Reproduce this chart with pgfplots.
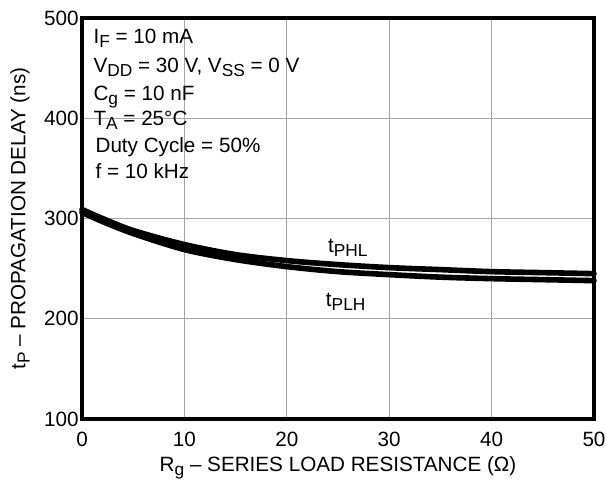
\documentclass[border=0pt]{standalone}
\usepackage{pgfplots}
\pgfplotsset{compat=1.18}
\usepackage{fontspec}
\setmainfont{Liberation Sans}
\newcommand{\sub}[1]{\raisebox{-3.2pt}{\fontsize{13}{14}\selectfont #1}}

\pgfplotstableread{
x   y
0   309
2   300
5   288
10  274
15  264
20  258
25  254
30  251
35  249
40  247
45  246
50  245
}\phl
\pgfplotstableread{
x   y
0   306
2   297
5   285
10  269
15  259
20  252
25  247
30  244
35  241.5
40  240
45  239
50  238
}\plh

\begin{document}
\begin{tikzpicture}
\begin{axis}[
    name=ax,
    scale only axis,
    width=384pt, height=300.75pt,
    xmin=0, xmax=50, ymin=100, ymax=500,
    xtick={0,10,...,50}, ytick={100,200,...,500},
    major tick length=0pt,
    grid=major,
    grid style={gray!70, line width=0.7pt},
    axis line style={line width=2.4pt},
    font=\fontsize{15.5}{18}\selectfont,
    tick label style={font=\fontsize{15.5}{18}\selectfont},
    /pgf/number format/assume math mode=true,
    xticklabel style={yshift=-6.5pt},
    yticklabel style={xshift=1pt},
    xlabel={R\sub{g} – SERIES LOAD RESISTANCE (Ω)},
    ylabel={t\sub{P} – PROPAGATION DELAY (ns)},
    xlabel style={at={(axis description cs:0.5,-0.122)}, anchor=center},
    ylabel style={at={(axis description cs:-0.121,0.5)}, anchor=center},
    clip=false,
]
\addplot[line width=4.2pt, line cap=round, smooth] table {\phl};
\addplot[line width=4.2pt, line cap=round, smooth] table {\plh};
\node[anchor=base west, inner sep=0pt] at (axis cs:1.1,475) {I\sub{F} = 10 mA};
\node[anchor=base west, inner sep=0pt] at (axis cs:1.1,446) {V\sub{DD} = 30 V, V\sub{SS} = 0 V};
\node[anchor=base west, inner sep=0pt] at (axis cs:1.1,418) {C\sub{g} = 10 nF};
\node[anchor=base west, inner sep=0pt] at (axis cs:1.1,393) {T\sub{A} = 25°C};
\node[anchor=base west, inner sep=0pt] at (axis cs:1.3,366) {Duty Cycle = 50\%};
\node[anchor=base west, inner sep=0pt] at (axis cs:1.3,340) {f = 10 kHz};
\node[anchor=base west, inner sep=0pt] at (axis cs:24.0,266) {t\sub{PHL}};
\node[anchor=base west, inner sep=0pt] at (axis cs:23.8,212) {t\sub{PLH}};
\end{axis}
\pgfresetboundingbox
\path[use as bounding box] ([xshift=-61.5pt,yshift=-51pt]ax.south west) rectangle ([xshift=9pt,yshift=13.5pt]ax.north east);
\end{tikzpicture}
\end{document}
